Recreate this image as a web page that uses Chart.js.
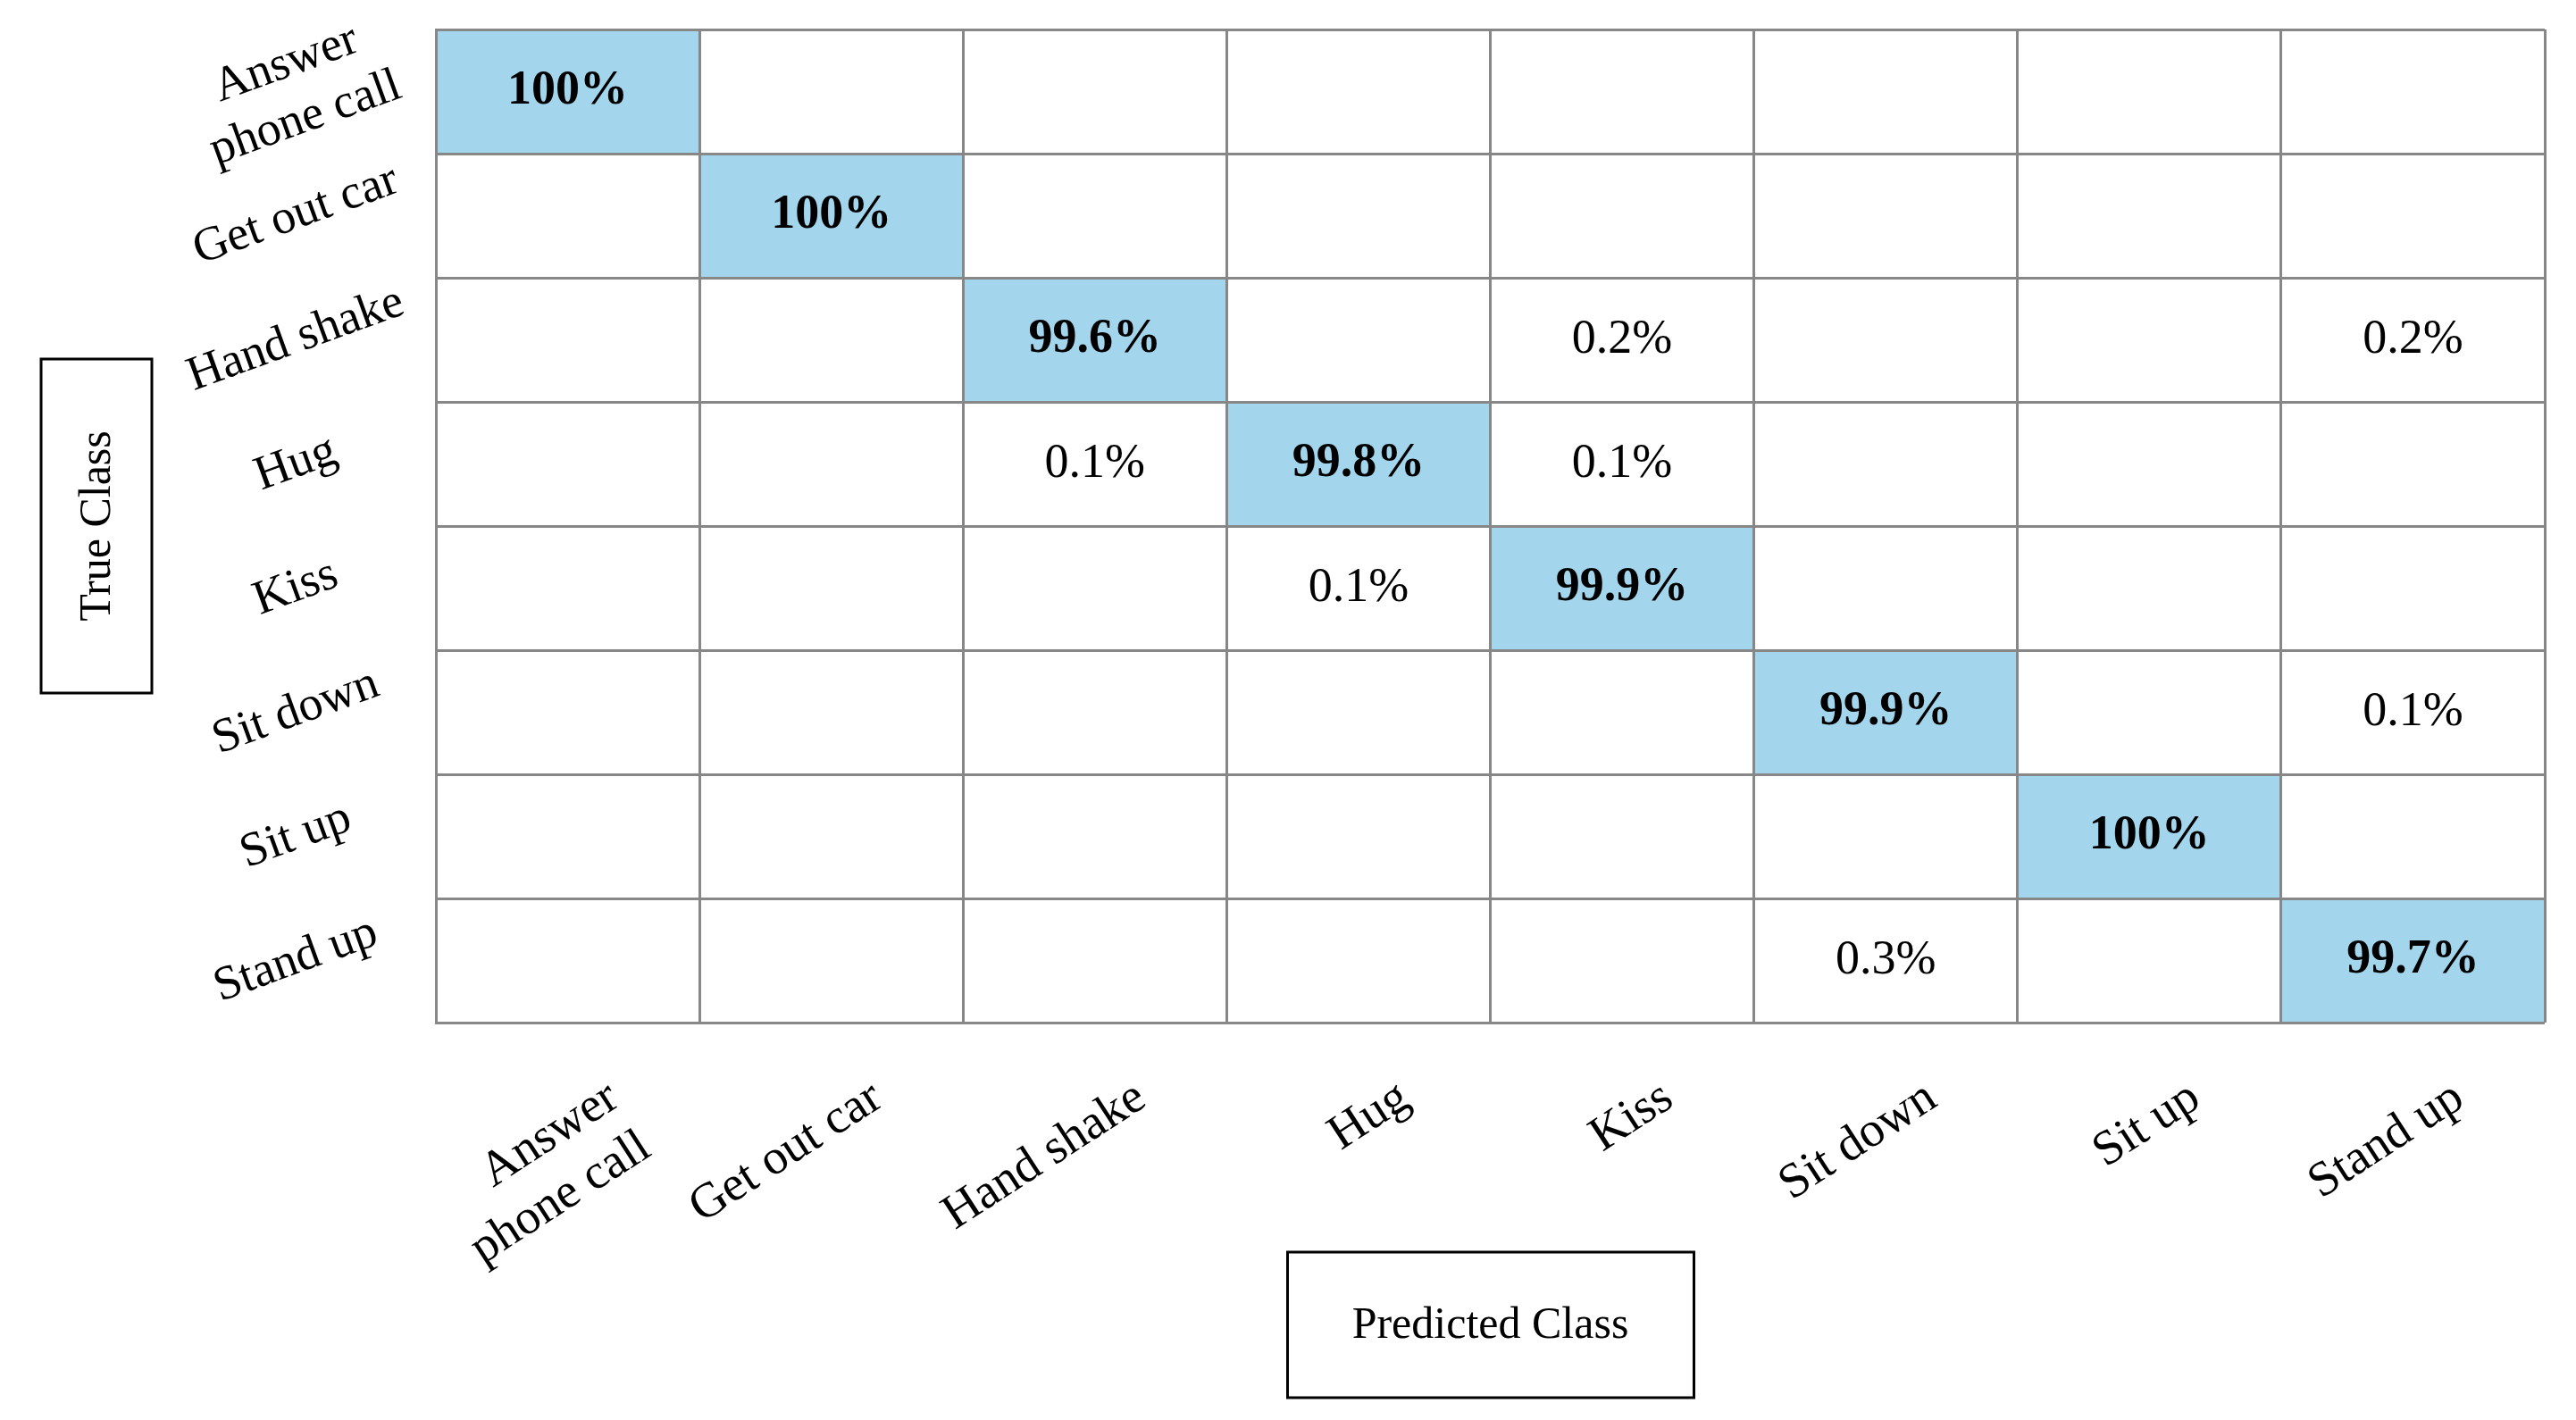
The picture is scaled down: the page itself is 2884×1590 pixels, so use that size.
<!DOCTYPE html>
<html>
<head>
<meta charset="utf-8">
<script src="https://cdn.jsdelivr.net/npm/chart.js@4.4.1/dist/chart.umd.min.js"></script>
<style>
  html, body { margin: 0; padding: 0; background: #fff; }
  #wrap { width: 2884px; height: 1590px; position: relative; }
</style>
</head>
<body>
<div id="wrap"><canvas id="cm"></canvas></div>
<script>
// classes (rows = true class, columns = predicted class)
const trueClasses = [['Answer', 'phone call'], 'Get out car', 'Hand shake', 'Hug', 'Kiss', 'Sit down', 'Sit up', 'Stand up'];
const predictedClasses = [['Answer', 'phone call'], 'Get out car', 'Hand shake', 'Hug', 'Kiss', 'Sit down', 'Sit up', 'Stand up'];

// percentages per true class, one entry per predicted class (null = empty cell)
const rowAnswerPhoneCall = [100, null, null, null, null, null, null, null];
const rowGetOutCar       = [null, 100, null, null, null, null, null, null];
const rowHandShake       = [null, null, 99.6, null, 0.2, null, null, 0.2];
const rowHug             = [null, null, 0.1, 99.8, 0.1, null, null, null];
const rowKiss            = [null, null, null, 0.1, 99.9, null, null, null];
const rowSitDown         = [null, null, null, null, null, 99.9, null, 0.1];
const rowSitUp           = [null, null, null, null, null, null, 100, null];
const rowStandUp         = [null, null, null, null, null, 0.3, null, 99.7];

const confusion = [rowAnswerPhoneCall, rowGetOutCar, rowHandShake, rowHug, rowKiss, rowSitDown, rowSitUp, rowStandUp];

const BLUE = '#a3d6ed';
const GRID = '#878787';
const FONT = 'Liberation Serif';

// each cell is one unit wide on the value axis
const datasets = predictedClasses.map((p, c) => ({
  label: [].concat(p).join(' '),
  data: trueClasses.map(() => 1),
  backgroundColor: (ctx) => ctx.dataIndex === c ? BLUE : '#ffffff',
  borderWidth: 0,
  barPercentage: 1,
  categoryPercentage: 1
}));

const cellText = {
  id: 'cellText',
  afterDatasetsDraw(chart) {
    const ctx = chart.ctx;
    ctx.save();
    ctx.textAlign = 'center';
    ctx.textBaseline = 'middle';
    ctx.fillStyle = '#000';
    chart.data.datasets.forEach((ds, c) => {
      chart.getDatasetMeta(c).data.forEach((bar, r) => {
        const v = confusion[r][c];
        if (v == null) return;
        const pt = bar.getCenterPoint();
        ctx.font = (r === c ? 'bold ' : '') + '54px "' + FONT + '"';
        ctx.fillText(v + '%', pt.x, pt.y);
      });
    });
    ctx.restore();
  }
};

const boxedTitles = {
  id: 'boxedTitles',
  afterDraw(chart) {
    const ctx = chart.ctx;
    const a = chart.chartArea;
    const cx = (a.left + a.right) / 2;
    const cy = (a.top + a.bottom) / 2;
    ctx.save();
    ctx.strokeStyle = '#000';
    ctx.lineWidth = 3;
    ctx.fillStyle = '#000';
    ctx.font = '50px "' + FONT + '"';
    ctx.textAlign = 'center';
    ctx.textBaseline = 'middle';

    ctx.strokeRect(46, cy - 187, 124, 374);
    ctx.save();
    ctx.translate(110, cy);
    ctx.rotate(-Math.PI / 2);
    ctx.fillText('True Class', 0, 0);
    ctx.restore();

    ctx.strokeRect(cx - 227, a.bottom + 257, 455, 163);
    ctx.fillText('Predicted Class', cx, a.bottom + 340);
    ctx.restore();
  }
};

new Chart(document.getElementById('cm'), {
  type: 'bar',
  data: { labels: trueClasses, datasets },
  options: {
    indexAxis: 'y',
    responsive: true,
    maintainAspectRatio: false,
    animation: false,
    layout: { padding: { left: 0, top: 33, right: 35, bottom: 0 } },
    plugins: { legend: { display: false }, tooltip: { enabled: false } },
    scales: {
      y: {
        type: 'category',
        stacked: true,
        offset: true,
        grid: { offset: true, color: GRID, lineWidth: 3, drawTicks: false, z: 1 },
        border: { color: GRID, width: 3, z: 1 },
        ticks: {
          color: '#000',
          font: { family: FONT, size: 54 },
          autoSkip: false,
          minRotation: 20,
          maxRotation: 20,
          crossAlign: 'center',
          padding: 30
        },
        afterFit(s) { s.width = 488; s.paddingTop = 0; s.paddingBottom = 0; }
      },
      x: {
        type: 'linear',
        stacked: true,
        min: 0,
        max: 8,
        grid: { display: false, drawTicks: false },
        border: { display: false },
        afterBuildTicks(s) { s.ticks = predictedClasses.map((_, i) => ({ value: i + 0.5 })); },
        ticks: {
          color: '#000',
          font: { family: FONT, size: 55 },
          autoSkip: false,
          callback: (v, i) => predictedClasses[i],
          minRotation: 33,
          maxRotation: 33,
          padding: 52,
          labelOffset: 52
        },
        afterFit(s) { s.height = 445; s.paddingLeft = 0; s.paddingRight = 0; }
      },
      x2: {
        type: 'linear',
        position: 'bottom',
        min: 0,
        max: 8,
        grid: { color: GRID, lineWidth: 3, drawTicks: false, z: 1 },
        border: { display: false },
        ticks: { display: false, stepSize: 1 },
        afterFit(s) { s.height = 0; s.paddingLeft = 0; s.paddingRight = 0; }
      }
    }
  },
  plugins: [cellText, boxedTitles]
});
</script>
</body>
</html>
